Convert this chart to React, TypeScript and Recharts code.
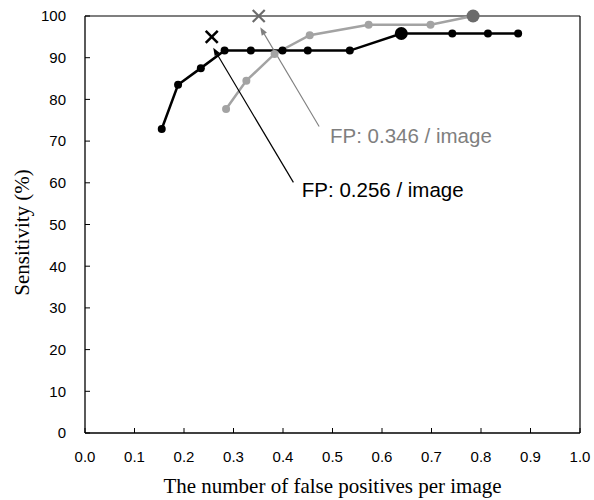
import React from "react";
import {
  ComposedChart,
  Line,
  Scatter,
  XAxis,
  YAxis,
  ReferenceLine,
  ReferenceDot,
} from "recharts";

// ---- data ----
const blackFP = [0.155, 0.188, 0.234, 0.282, 0.335, 0.399, 0.45, 0.535, 0.639, 0.742, 0.814, 0.875];
const blackSens = [72.9, 83.5, 87.5, 91.7, 91.7, 91.7, 91.7, 91.7, 95.8, 95.8, 95.8, 95.8];
const blackBigIndex = 8;

const grayFP = [0.285, 0.326, 0.383, 0.454, 0.573, 0.698, 0.784];
const graySens = [77.7, 84.5, 90.9, 95.4, 97.9, 97.9, 100];
const grayBigIndex = 6;

const blackMark = { fp: 0.256, sens: 95 };
const grayMark = { fp: 0.351, sens: 100 };

const blackLabel = "FP: 0.256 / image";
const grayLabel = "FP: 0.346 / image";
const blackArrow = [{ x: 0.421, y: 60.1 }, { x: 0.259, y: 92.4 }];
const grayArrow = [{ x: 0.473, y: 73.5 }, { x: 0.354, y: 97.3 }];
const blackLabelPos = { fp: 0.438, sens: 58.3 };
const grayLabelPos = { fp: 0.495, sens: 71.2 };

const xTicks = [0, 0.1, 0.2, 0.3, 0.4, 0.5, 0.6, 0.7, 0.8, 0.9, 1.0];
const yTicks = [0, 10, 20, 30, 40, 50, 60, 70, 80, 90, 100];
const xTitle = "The number of false positives per image";
const yTitle = "Sensitivity (%)";

const blackData = blackFP.map((fp, i) => ({ fp, sens: blackSens[i] }));
const grayData = grayFP.map((fp, i) => ({ fp, sens: graySens[i] }));

const GRAY_LINE = "#a3a3a3";
const GRAY_DARK = "#6b6b6b";
const GRAY_TEXT = "#7f7f7f";
const SANS = "'Liberation Sans', Arial, sans-serif";
const SERIF = "'Liberation Serif', 'Times New Roman', serif";

const makeDot = (color: string, bigColor: string, bigIndex: number) => (props: any) => {
  const { cx, cy, index } = props;
  if (cx == null || cy == null) return <g key={index} />;
  const big = index === bigIndex;
  return <circle key={index} cx={cx} cy={cy} r={big ? 6.5 : 4} fill={big ? bigColor : color} stroke="none" />;
};

const makeCross = (color: string, width: number) => (props: any) => {
  const { cx, cy } = props;
  const s = 6;
  return (
    <g>
      <line x1={cx - s} y1={cy - s} x2={cx + s} y2={cy + s} stroke={color} strokeWidth={width} />
      <line x1={cx - s} y1={cy + s} x2={cx + s} y2={cy - s} stroke={color} strokeWidth={width} />
    </g>
  );
};

const makeArrow = (color: string, width: number) => (p: any) => {
  const { x1, y1, x2, y2 } = p;
  const dx = x2 - x1;
  const dy = y2 - y1;
  const len = Math.sqrt(dx * dx + dy * dy) || 1;
  const ux = dx / len;
  const uy = dy / len;
  const hl = 8;
  const hw = 3;
  const bx = x2 - ux * hl;
  const by = y2 - uy * hl;
  const pts = `${x2},${y2} ${bx - uy * hw},${by + ux * hw} ${bx + uy * hw},${by - ux * hw}`;
  return (
    <g>
      <line x1={x1} y1={y1} x2={bx} y2={by} stroke={color} strokeWidth={width} />
      <polygon points={pts} fill={color} />
    </g>
  );
};

const makeText = (text: string, color: string) => (p: any) => (
  <text x={p.cx} y={p.cy} dy="0.35em" fill={color} fontFamily={SANS} fontSize={20.5}>
    {text}
  </text>
);

const YTitle = (props: any) => {
  const { viewBox } = props;
  const cx = 22;
  const cy = viewBox.y + viewBox.height / 2 + 8;
  return (
    <text
      x={cx}
      y={cy}
      transform={`rotate(-90, ${cx}, ${cy})`}
      textAnchor="middle"
      dominantBaseline="central"
      fontFamily={SERIF}
      fontSize={21}
      fill="#000"
    >
      {yTitle}
    </text>
  );
};

export default function App() {
  return (
    <div style={{ position: "absolute", left: 0, top: 0, background: "#fff" }}>
      <ComposedChart
        width={594}
        height={500}
        margin={{ top: 16, right: 14, bottom: 0, left: 0 }}
      >
        <XAxis
          type="number"
          dataKey="fp"
          domain={[0, 1]}
          ticks={xTicks}
          tickFormatter={(v: number) => v.toFixed(1)}
          height={67}
          tickSize={-5}
          tickMargin={23}
          axisLine={{ stroke: "#000", strokeWidth: 1.3 }}
          tickLine={{ stroke: "#000", strokeWidth: 1 }}
          tick={{ fill: "#000", fontSize: 15, fontFamily: SANS }}
          label={{
            value: xTitle,
            position: "insideBottom",
            offset: 7,
            fill: "#000",
            fontSize: 21,
            fontFamily: SERIF,
          }}
        />
        <YAxis
          type="number"
          dataKey="sens"
          domain={[0, 100]}
          ticks={yTicks}
          width={85}
          tickSize={-5}
          tickMargin={24}
          axisLine={{ stroke: "#000", strokeWidth: 1.3 }}
          tickLine={{ stroke: "#000", strokeWidth: 1 }}
          tick={{ fill: "#000", fontSize: 15, fontFamily: SANS }}
          label={{ content: YTitle }}
        />
        <ReferenceLine y={100} stroke="#000" strokeWidth={1.2} />
        <ReferenceLine x={1} stroke="#000" strokeWidth={1.2} />
        <Line
          data={grayData}
          dataKey="sens"
          stroke={GRAY_LINE}
          strokeWidth={2.5}
          dot={makeDot(GRAY_LINE, GRAY_DARK, grayBigIndex)}
          activeDot={false}
          isAnimationActive={false}
        />
        <Line
          data={blackData}
          dataKey="sens"
          stroke="#000"
          strokeWidth={2.5}
          dot={makeDot("#000", "#000", blackBigIndex)}
          activeDot={false}
          isAnimationActive={false}
        />
        <Scatter
          data={[blackMark]}
          dataKey="sens"
          shape={makeCross("#000", 2.5)}
          isAnimationActive={false}
        />
        <Scatter
          data={[grayMark]}
          dataKey="sens"
          shape={makeCross(GRAY_DARK, 2.2)}
          isAnimationActive={false}
        />
        <ReferenceLine segment={blackArrow} shape={makeArrow("#000", 1.2)} />
        <ReferenceLine segment={grayArrow} shape={makeArrow(GRAY_TEXT, 1.1)} />
        <ReferenceDot
          x={blackLabelPos.fp}
          y={blackLabelPos.sens}
          r={0}
          shape={makeText(blackLabel, "#000")}
        />
        <ReferenceDot
          x={grayLabelPos.fp}
          y={grayLabelPos.sens}
          r={0}
          shape={makeText(grayLabel, GRAY_TEXT)}
        />
      </ComposedChart>
    </div>
  );
}
